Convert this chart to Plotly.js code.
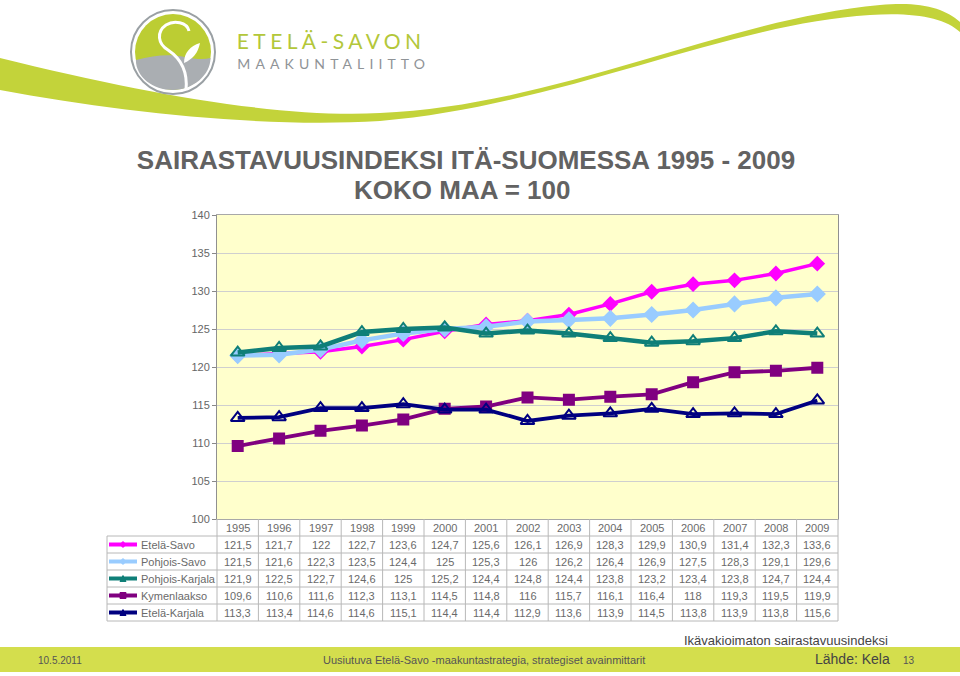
<!DOCTYPE html>
<html>
<head>
<meta charset="utf-8">
<script src="https://cdn.plot.ly/plotly-3.0.1.min.js"></script>
<style>
html,body{margin:0;padding:0;background:#fff;}
#chart{width:960px;height:676px;}
</style>
</head>
<body>
<div id="chart"></div>
<script>
// ---- data ----
const years = ['1995','1996','1997','1998','1999','2000','2001','2002','2003','2004','2005','2006','2007','2008','2009'];
const seriesNames = ['Etelä-Savo','Pohjois-Savo','Pohjois-Karjala','Kymenlaakso','Etelä-Karjala'];
const etelaSavo      = [121.5,121.7,122,122.7,123.6,124.7,125.6,126.1,126.9,128.3,129.9,130.9,131.4,132.3,133.6];
const pohjoisSavo    = [121.5,121.6,122.3,123.5,124.4,125,125.3,126,126.2,126.4,126.9,127.5,128.3,129.1,129.6];
const pohjoisKarjala = [121.9,122.5,122.7,124.6,125,125.2,124.4,124.8,124.4,123.8,123.2,123.4,123.8,124.7,124.4];
const kymenlaakso    = [109.6,110.6,111.6,112.3,113.1,114.5,114.8,116,115.7,116.1,116.4,118,119.3,119.5,119.9];
const etelaKarjala   = [113.3,113.4,114.6,114.6,115.1,114.4,114.4,112.9,113.6,113.9,114.5,113.8,113.9,113.8,115.6];
const seriesValues = [etelaSavo, pohjoisSavo, pohjoisKarjala, kymenlaakso, etelaKarjala];
const yTicks = [100,105,110,115,120,125,130,135,140];

// ---- styles ----
const colors  = ['#ff00ff','#99ccff','#0f7f78','#800080','#000080'];
const symbols = ['diamond','diamond','triangle-up-open','square','triangle-up-open'];
const msizes  = [10,11,12,10,12];
const lwidths = [3.5,4.5,4.5,3.8,3.8];

// plot area in pixels
const L = 217, R = 838, T = 215, B = 519;
const px = x => (x - L) / (R - L);
const py = y => (B - y) / (B - T);
const conv = s => s.replace(/(-?\d+\.?\d*),(-?\d+\.?\d*)/g, (m,a,b) => px(+a).toFixed(5) + ',' + py(+b).toFixed(5));

const traces = seriesValues.map((vals, i) => ({
  type: 'scatter', mode: 'lines+markers', name: seriesNames[i],
  x: years, y: vals,
  line: {color: colors[i], width: lwidths[i]},
  marker: {symbol: symbols[i], size: msizes[i], color: colors[i], line: {color: colors[i], width: 2}},
  showlegend: false, hoverinfo: 'x+y+name'
}));

const shapes = [];
const annotations = [];

// ---- swoosh & logo ----
shapes.push({type:'path', xref:'paper', yref:'paper', layer:'above',
  path: conv('M 0,58 C 150,95 280,118 380,113 C 560,105 720,20 880,5 C 920,1 945,8 960,22 L 960,32 C 945,18 915,12 870,15 C 720,25 560,106 380,121 C 260,128 120,112 0,90 Z'),
  fillcolor:'#c3d33a', line:{width:0}});
shapes.push({type:'circle', xref:'paper', yref:'paper', layer:'above',
  x0:px(131), x1:px(215), y0:py(94), y1:py(10), fillcolor:'#ffffff', line:{color:'#9aa0a4', width:2}});
shapes.push({type:'circle', xref:'paper', yref:'paper', layer:'above',
  x0:px(135), x1:px(211), y0:py(90), y1:py(14), fillcolor:'#bccd33', line:{width:0}});
shapes.push({type:'path', xref:'paper', yref:'paper', layer:'above',
  path: conv('M 210.5,58 C 210.5,75 193,90 173,90 C 153,90 135.9,77 135.9,60 C 155,55 170,54 185,57 C 195,59 203,60 210.5,58 Z'),
  fillcolor:'#aaaeb2', line:{width:0}});
shapes.push({type:'path', xref:'paper', yref:'paper', layer:'above',
  path: conv('M 189,31 C 187,22 174,20 166,25 C 156,32 158,44 168,50 C 180,58 188,70 186,90'),
  line:{color:'#ffffff', width:3}});
shapes.push({type:'path', xref:'paper', yref:'paper', layer:'above',
  path: conv('M 184,63 C 184,53 190,46 200,43 C 198,53 193,59 184,63 Z'),
  fillcolor:'#ffffff', line:{width:0}});

// letter-spaced logo texts (text-anchor middle widens both sides, so anchor shifted by n*s/2)
const logoSpace1 = 4.4, logoSpace2 = 5.1;
annotations.push({xref:'paper', yref:'paper', x:px(235 + 11*logoSpace1/2), y:py(40), xanchor:'left', yanchor:'middle', showarrow:false,
  text:'ETELÄ-SAVON', font:{family:'Lato, "Open Sans", sans-serif', size:21, color:'#b3c73a', weight:400}});
annotations.push({xref:'paper', yref:'paper', x:px(235 + 14*logoSpace2/2), y:py(63), xanchor:'left', yanchor:'middle', showarrow:false,
  text:'MAAKUNTALIITTO', font:{family:'Lato, "Open Sans", sans-serif', size:14, color:'#8f9397'}});

// ---- title line 2 ----
annotations.push({xref:'paper', yref:'paper', x:px(462), y:py(190), xanchor:'center', yanchor:'middle', showarrow:false,
  text:'KOKO MAA = 100', font:{family:'"Liberation Sans", Arial, sans-serif', size:26, color:'#626262', weight:700}});

// ---- data table ----
const tLeft = 107, rowH = 17;
const colW = (R - L) / years.length;
const tableFont = {family:'"Liberation Sans", Arial, sans-serif', size:11, color:'#6a6a6a'};
for (let r = 1; r <= 6; r++) {
  const y = B + r * rowH;
  shapes.push({type:'line', xref:'paper', yref:'paper', x0:px(tLeft), x1:px(R), y0:py(y), y1:py(y), line:{color:'#b8b8b8', width:1}});
}
for (let k = 0; k <= years.length; k++) {
  const x = L + k * colW;
  shapes.push({type:'line', xref:'paper', yref:'paper', x0:px(x), x1:px(x), y0:py(B), y1:py(B + 6*rowH), line:{color:'#b8b8b8', width:1}});
}
shapes.push({type:'line', xref:'paper', yref:'paper', x0:px(tLeft), x1:px(tLeft), y0:py(B+rowH), y1:py(B + 6*rowH), line:{color:'#b8b8b8', width:1}});
years.forEach((yr, i) => {
  annotations.push({xref:'x', yref:'paper', x:i, y:py(B + rowH/2 + 0.5), xanchor:'center', yanchor:'middle', showarrow:false,
    text:yr, font:tableFont});
});
seriesValues.forEach((vals, s) => {
  const yc = B + rowH * (s + 1) + rowH/2;
  annotations.push({xref:'paper', yref:'paper', x:px(139), y:py(yc), xanchor:'left', yanchor:'middle', showarrow:false,
    text:seriesNames[s], font:tableFont});
  vals.forEach((v, i) => {
    annotations.push({xref:'x', yref:'paper', x:i, y:py(yc), xanchor:'center', yanchor:'middle', showarrow:false,
      text:String(v).replace('.', ','), font:tableFont});
  });
  shapes.push({type:'line', xref:'paper', yref:'paper', x0:px(109), x1:px(137), y0:py(yc), y1:py(yc), line:{color:colors[s], width:4}});
  const cx = 123, cy = yc;
  let mp;
  if (symbols[s] === 'diamond') mp = `M ${cx-3},${cy} L ${cx},${cy-3} L ${cx+3},${cy} L ${cx},${cy+3} Z`;
  else if (symbols[s] === 'square') mp = `M ${cx-3},${cy-3} L ${cx+3},${cy-3} L ${cx+3},${cy+3} L ${cx-3},${cy+3} Z`;
  else mp = `M ${cx-3},${cy+3} L ${cx},${cy-3} L ${cx+3},${cy+3} Z`;
  shapes.push({type:'path', xref:'paper', yref:'paper', path:conv(mp), fillcolor:colors[s], line:{color:colors[s], width:1}});
});

// ---- footer ----
shapes.push({type:'rect', xref:'paper', yref:'paper', x0:px(0), x1:px(960), y0:py(647), y1:py(672), fillcolor:'#d4de4d', line:{width:0}, layer:'below'});
const footFont = {family:'"Liberation Sans", Arial, sans-serif', size:11, color:'#555555'};
annotations.push({xref:'paper', yref:'paper', x:px(36), y:py(660), xanchor:'left', yanchor:'middle', showarrow:false, text:'10.5.2011', font:{...footFont, size:10}});
annotations.push({xref:'paper', yref:'paper', x:px(484), y:py(660), xanchor:'center', yanchor:'middle', showarrow:false,
  text:'Uusiutuva Etelä-Savo -maakuntastrategia, strategiset avainmittarit', font:{...footFont, size:11}});
annotations.push({xref:'paper', yref:'paper', x:px(892), y:py(659), xanchor:'right', yanchor:'middle', showarrow:false,
  text:'Lähde: Kela', font:{...footFont, size:14, color:'#444444'}});
annotations.push({xref:'paper', yref:'paper', x:px(901), y:py(660), xanchor:'left', yanchor:'middle', showarrow:false, text:'13', font:{...footFont, size:10}});
annotations.push({xref:'paper', yref:'paper', x:px(890), y:py(640), xanchor:'right', yanchor:'middle', showarrow:false,
  text:'Ikävakioimaton sairastavuusindeksi', font:{...footFont, size:13, color:'#444444'}});

const layout = {
  width:960, height:676,
  margin:{l:L, r:960-R, t:T, b:676-B, pad:0},
  paper_bgcolor:'#ffffff', plot_bgcolor:'#ffffcc',
  title:{text:'SAIRASTAVUUSINDEKSI ITÄ-SUOMESSA 1995 - 2009', x:466/960, xanchor:'center', xref:'container',
    y:1-160/676, yanchor:'middle', yref:'container',
    font:{family:'"Liberation Sans", Arial, sans-serif', size:26, color:'#626262', weight:700}},
  xaxis:{type:'category', categoryorder:'array', categoryarray:years, range:[-0.5, 14.5],
    showticklabels:false, ticks:'', showgrid:false, zeroline:false,
    showline:true, mirror:true, linecolor:'#a8a8a8', linewidth:1, fixedrange:true},
  yaxis:{range:[100,140], tickvals:yTicks, ticktext:yTicks.map(String), ticks:'outside', ticklen:4, tickcolor:'#888',
    tickfont:{family:'"Liberation Sans", Arial, sans-serif', size:11, color:'#666666'},
    showgrid:true, gridcolor:'#cfcfcf', gridwidth:1, zeroline:false,
    showline:true, mirror:true, linecolor:'#909090', linewidth:1, fixedrange:true},
  shapes, annotations, showlegend:false
};

Plotly.newPlot('chart', traces, layout, {displayModeBar:false, staticPlot:true}).then(() => {
  document.querySelectorAll('#chart .annotation-text').forEach(t => {
    if (t.textContent === 'MAAKUNTALIITTO') t.style.letterSpacing = logoSpace2 + 'px';
    if (t.textContent === 'ETELÄ-SAVON') t.style.letterSpacing = logoSpace1 + 'px';
  });
});
</script>
</body>
</html>
